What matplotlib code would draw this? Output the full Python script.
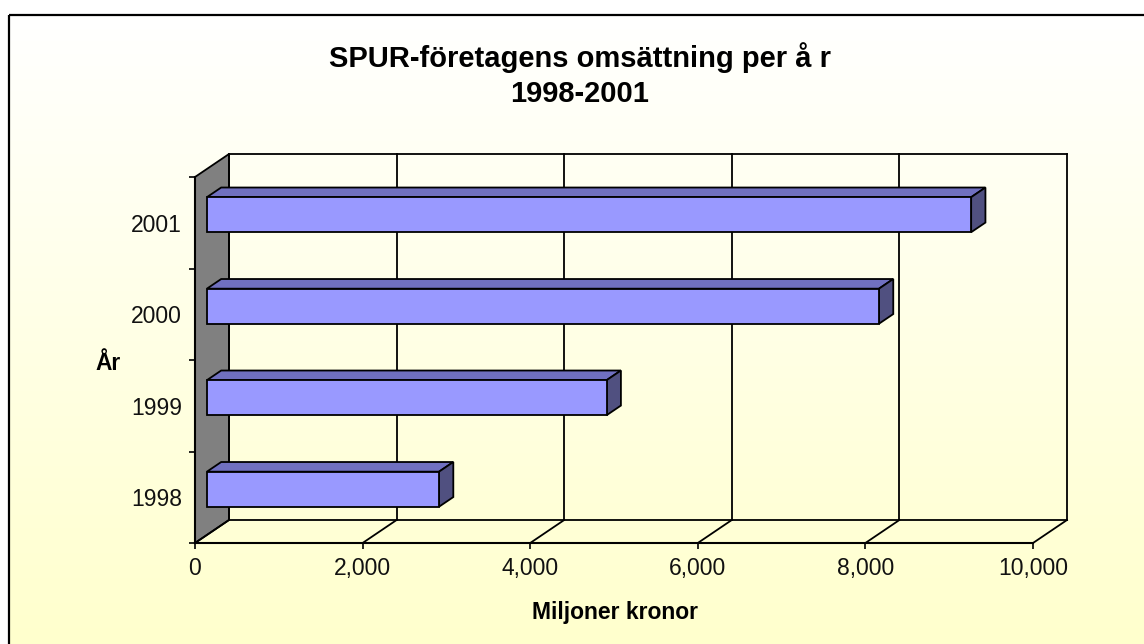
import numpy as np
import matplotlib
matplotlib.use('Agg')
import matplotlib.pyplot as plt
from matplotlib.patches import Polygon, Rectangle
from matplotlib.colors import LinearSegmentedColormap

# data
years = ['1998', '1999', '2000', '2001']
omsattning = [2770, 4770, 8020, 9120]
x_ticks = [0, 2000, 4000, 6000, 8000, 10000]
x_labels = ['0', '2,000', '4,000', '6,000', '8,000', '10,000']

plt.rcParams['font.family'] = ['Liberation Sans', 'DejaVu Sans']

W, H = 1144, 644
fig = plt.figure(figsize=(W / 100, H / 100), dpi=100)

# background with gradient and frame
bg = fig.add_axes([0, 0, 1, 1])
bg.set_xlim(0, W)
bg.set_ylim(H, 0)
bg.axis('off')
cmap = LinearSegmentedColormap.from_list('bg', ['#FFFFFF', '#FFFFCC'])
grad = np.linspace(0, 1, 256)[:, None]
bg.imshow(grad, extent=[9, W + 10, H + 10, 15], cmap=cmap, aspect='auto')
bg.add_patch(Rectangle((9, 15), W, H, fill=False, lw=1.6, ec='black'))

# main axes = front plane
ax = fig.add_axes([195 / W, (H - 543) / H, 838 / W, 366 / H])
ax.set_xlim(0, 10000)
ax.set_ylim(0, 4)
ax.patch.set_visible(False)
ax.spines['top'].set_visible(False)
ax.spines['right'].set_visible(False)
for s in ['left', 'bottom']:
    ax.spines[s].set_linewidth(1.5)
    ax.spines[s].set_zorder(5)

DX, DY = 34, 23  # depth in pixels


def shift(x, y, d):
    px = ax.transData.transform(np.column_stack([np.atleast_1d(x), np.atleast_1d(y)]).astype(float))
    px = px + np.array([DX, DY]) * d
    return ax.transData.inverted().transform(px)


lw = 1.3
ymax = 4

# side wall
wall = [(0, 0), (0, ymax), tuple(shift(0, ymax, 1)[0]), tuple(shift(0, 0, 1)[0])]
ax.add_patch(Polygon(wall, closed=True, fc='#808080', ec='black', lw=lw, clip_on=False, zorder=1))

# back wall grid lines and floor
for xv in x_ticks:
    b = shift([xv, xv], [0, ymax], 1)
    ax.plot(b[:, 0], b[:, 1], color='black', lw=lw, clip_on=False, zorder=1)
    f = np.vstack([[xv, 0], shift(xv, 0, 1)])
    ax.plot(f[:, 0], f[:, 1], color='black', lw=lw, clip_on=False, zorder=1)
top = shift([0, 10000], [ymax, ymax], 1)
ax.plot(top[:, 0], top[:, 1], color='black', lw=lw, clip_on=False, zorder=1)
flo = shift([0, 10000], [0, 0], 1)
ax.plot(flo[:, 0], flo[:, 1], color='black', lw=lw, clip_on=False, zorder=1)

# 3D bars
d1, d2 = 0.35, 0.77
bh = 0.383
for i, v in enumerate(omsattning):
    c = i + 0.5
    y0, y1 = c - bh / 2, c + bh / 2
    front = shift([0, v, v, 0], [y0, y0, y1, y1], d1)
    topf = np.vstack([shift([0, v], [y1, y1], d1), shift([v, 0], [y1, y1], d2)])
    side = np.vstack([shift([v, v], [y0, y1], d1), shift([v, v], [y1, y0], d2)])
    ax.add_patch(Polygon(topf, closed=True, fc='#7070C0', ec='black', lw=lw, clip_on=False, zorder=3))
    ax.add_patch(Polygon(side, closed=True, fc='#505080', ec='black', lw=lw, clip_on=False, zorder=3))
    ax.add_patch(Polygon(front, closed=True, fc='#9999FF', ec='black', lw=lw, clip_on=False, zorder=4))

# ticks
ax.set_xticks(x_ticks)
ax.set_xticklabels(x_labels, fontsize=16.5, color='#111111')
ax.tick_params(axis='x', direction='out', length=4.5, width=1.2, pad=5.5)
ax.set_yticks([0, 1, 2, 3, 4])
ax.set_yticklabels([])
ax.set_yticks([0.5, 1.5, 2.5, 3.5], minor=True)
ax.set_yticklabels(years, minor=True, fontsize=16.5, color='#111111')
ax.tick_params(axis='y', which='major', direction='out', length=4.5, width=1.2)
ax.tick_params(axis='y', which='minor', length=0, pad=9.5)

# texts
fig.text(580 / W, 1 - 58 / H, 'SPUR-företagens omsättning per å r', fontsize=21,
         fontweight='bold', ha='center', va='center')
fig.text(580 / W, 1 - 94 / H, '1998-2001', fontsize=21, fontweight='bold',
         ha='center', va='center')
fig.text(615 / W, 1 - 613 / H, 'Miljoner kronor', fontsize=16.5, fontweight='bold',
         ha='center', va='center')
fig.text(108 / W, 1 - 363 / H, 'År', fontsize=16.5, fontweight='bold',
         ha='center', va='center')

fig.savefig('out.png', dpi=100)
